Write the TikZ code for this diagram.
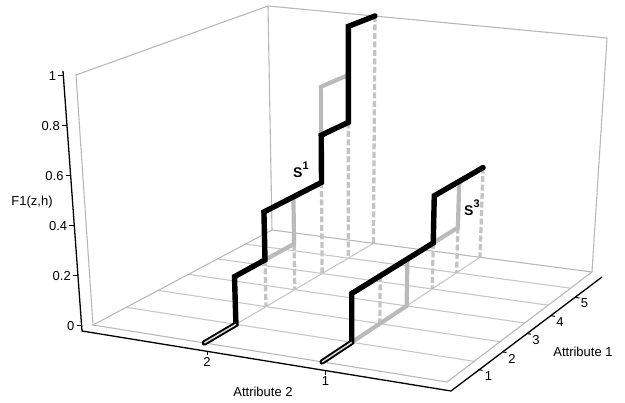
\documentclass[tikz,border=0pt]{standalone}
\usepackage{fontspec}
\setmainfont{Liberation Sans}
\newcommand\mkpt[4]{%
  \pgfmathsetmacro\prjS{#2/6}%
  \pgfmathsetmacro\prjT{(3-#3)/3}%
  \pgfmathsetmacro\prjW{0.14326*\prjS-0.08167*\prjT+1-0.0625*#4}%
  \pgfmathsetmacro\prjX{(217.97*\prjS+317.49*\prjT+93-21.75*#4)/\prjW}%
  \pgfmathsetmacro\prjY{(-62.05*\prjS+25.80*\prjT+325-254.75*#4)/\prjW}%
  \coordinate (#1) at (\prjX,\prjY);%
}
\tikzset{
  gridln/.style={draw=black!22, line width=1.1pt},
  boxln/.style={draw=black!28, line width=1.1pt},
  axisln/.style={draw=black, line width=1.3pt},
  graycurve/.style={draw=black!27, line width=4.2pt, line cap=round},
  blackcurve/.style={draw=black, line width=5.4pt, line cap=round},
  dropln/.style={draw=black!23, line width=3.3pt, dash pattern=on 6pt off 2.5pt},
  lbl/.style={font=\fontsize{13}{15}\selectfont, inner sep=0pt},
  slbl/.style={font=\bfseries\fontsize{14}{16}\selectfont, inner sep=0pt, anchor=base west},
}
\begin{document}
\begin{tikzpicture}[x=1pt,y=-1pt]
\useasboundingbox (0,0) rectangle (625,403);
% ---------- floor corners and box ----------
\mkpt{A}{0}{3}{0}
\mkpt{B}{0}{0}{0}
\mkpt{C}{6}{0}{0}
\mkpt{D}{6}{3}{0}
\coordinate (At) at (76,75);
\coordinate (Dt) at (268,6);
\coordinate (Ct) at (607,38);
% floor grid
\foreach \k in {1,...,5} {
  \mkpt{gL\k}{\k}{3}{0}
  \mkpt{gR\k}{\k}{0}{0}
  \draw[gridln] (gL\k) -- (gR\k);
}
\foreach \a in {1,2} {
  \mkpt{hF\a}{0}{\a}{0}
  \mkpt{hB\a}{6}{\a}{0}
  \draw[gridln] (hF\a) -- (hB\a);
}
% box edges
\draw[boxln] (A) -- (B) -- (C) -- (D) -- cycle;
\draw[boxln] (A) -- (At) -- (Dt) -- (Ct) -- (C);
\draw[boxln] (D) -- (Dt);
% ---------- drop lines ----------
\foreach \a/\k/\z [count=\i] in {2/2/0.2, 2/3/0.2, 2/4/0.4, 2/5/0.6, 2/6/1, 1/2/0.2, 1/4/0.2, 1/5/0.2, 1/6/0.4} {
  \mkpt{dt\i}{\k}{\a}{\z}
  \mkpt{db\i}{\k}{\a}{0}
  \draw[dropln] (dt\i) -- (db\i);
}
% ---------- S1 (attribute 2 = 2) ----------
\mkpt{p1a}{0}{2}{0}
\mkpt{p1b}{1}{2}{0}
\mkpt{p1c}{1}{2}{0.2}
\mkpt{p1d}{2}{2}{0.2}
\mkpt{p1e}{2}{2}{0.4}
\mkpt{p1f}{3}{2}{0.2}
\mkpt{p1g}{3}{2}{0.4}
\mkpt{p1h}{4}{2}{0.4}
\mkpt{p1i}{4}{2}{0.6}
\mkpt{p1j}{4}{2}{0.8}
\mkpt{p1k}{5}{2}{0.6}
\mkpt{p1l}{5}{2}{0.8}
\mkpt{p1m}{5}{2}{1}
\mkpt{p1n}{6}{2}{1}
% ---------- S3 (attribute 2 = 1) ----------
\mkpt{q1a}{0}{1}{0}
\mkpt{q1b}{1}{1}{0}
\mkpt{q1c}{1}{1}{0.2}
\mkpt{q1d}{3}{1}{0}
\mkpt{q1e}{3}{1}{0.2}
\mkpt{q1f}{4}{1}{0.2}
\mkpt{q1g}{4}{1}{0.4}
\mkpt{q1h}{5}{1}{0.2}
\mkpt{q1i}{5}{1}{0.4}
\mkpt{q1j}{6}{1}{0.4}
% gray curves
\draw[graycurve] (p1a) -- (p1b) -- (p1c) -- (p1f) -- (p1g) -- (p1h) -- (p1j) -- (p1l) -- (p1m) -- (p1n);
\draw[graycurve] (q1a) -- (q1d) -- (q1e) -- (q1h) -- (q1i) -- (q1j);
% black curves
\draw[blackcurve] (p1a) -- (p1b) -- (p1c) -- (p1d) -- (p1e) -- (p1h) -- (p1i) -- (p1k) -- (p1m) -- (p1n);
\draw[blackcurve] (q1a) -- (q1b) -- (q1c) -- (q1f) -- (q1g) -- (q1j);
% light core where both curves lie on the floor
\draw[draw=black!15, line width=1.5pt] (p1a) -- (p1b);
\draw[draw=black!15, line width=1.5pt] (q1a) -- (q1b);
% curve labels
\node[slbl] (lS1) at (293,178) {S\raisebox{8pt}{\fontsize{11}{11}\selectfont 1}};
\node[slbl] (lS3) at (464,216) {S\raisebox{8pt}{\fontsize{11}{11}\selectfont 3}};
% ---------- black axes ----------
\coordinate (zTop) at (63,71);
\coordinate (O) at (82,331);
\coordinate (xEnd) at (451,391);
\coordinate (yEnd) at (602,277);
\draw[axisln] (zTop) -- (O) -- (xEnd) -- (yEnd);
% z ticks
\foreach \v/\yy/\xx [count=\i] in {1/76/63.4, 0.8/126/67.0, 0.6/176/70.7, 0.4/226/74.3, 0.2/276/78.0, 0/326/81.6} {
  \coordinate (zt\i) at (\xx,\yy);
  \draw[axisln, line width=1pt] (zt\i) -- ++(-5,0);
  \node[lbl, anchor=east] (zl\i) at ([xshift=-7pt]zt\i) {\v};
}
% attribute 2 ticks
\coordinate (xt2) at (207,351);
\coordinate (xt1) at (325,370.5);
\draw[axisln, line width=1pt] (xt2) -- ++(0,4.5);
\draw[axisln, line width=1pt] (xt1) -- ++(0,4.5);
\node[lbl] (xl2) at (207,361.5) {2};
\node[lbl] (xl1) at (325.5,381) {1};
% attribute 1 ticks
\foreach \k/\xx/\yy/\lx/\ly in {1/478/369.6/488.5/376.5, 2/502/351.8/512/358.5, 3/526.5/333.5/536/340.5, 4/550.5/315.6/560/322.5, 5/575/297.3/584.5/303.5} {
  \coordinate (yt\k) at (\xx,\yy);
  \draw[axisln, line width=1pt] (yt\k) -- ++(4.5,0.7);
  \node[lbl] (yl\k) at (\lx,\ly) {\k};
}
% axis titles
\node[lbl] (zlab) at (32,202.5) {F1(z,h)};
\node[lbl] (xlab) at (263,392) {Attribute 2};
\node[lbl] (ylab) at (583,352) {Attribute 1};
\end{tikzpicture}
\end{document}
